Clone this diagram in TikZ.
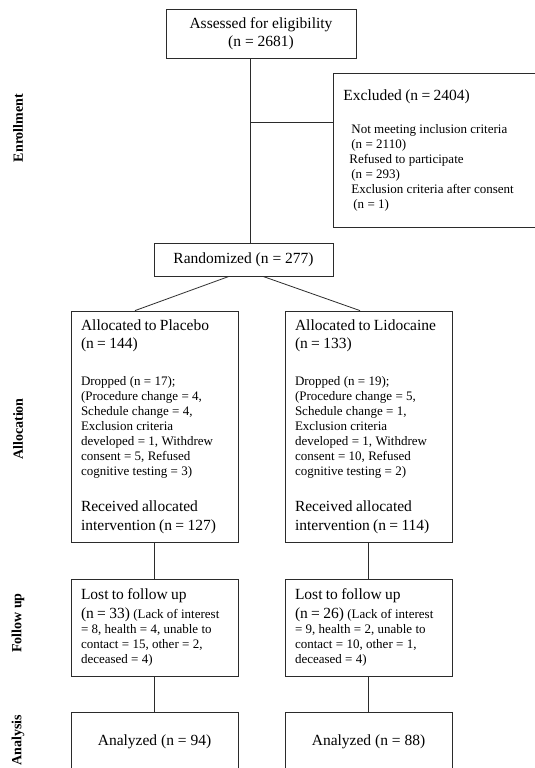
\documentclass[tikz,border=0pt]{standalone}
\usepackage{fontspec}
\setmainfont{Liberation Serif}
\usetikzlibrary{calc}
\definecolor{boxStroke}{HTML}{2B2B2B}
\newcommand{\hdfont}{\fontsize{15.5}{18.5}\selectfont}
\newcommand{\smfont}{\fontsize{13}{15}\selectfont}
\tikzset{
  base/.style={
    rectangle, draw=boxStroke, line width=0.8pt,
    inner xsep=10pt, inner ysep=3pt
  },
  centerbox/.style={base, align=center, font=\hdfont},
  armbox/.style={base, text width=147pt, minimum height=#1, align=left},
  armbox/.default=40pt,
  stage/.style={rotate=90, font=\fontsize{14}{16}\selectfont\bfseries},
  link/.style={draw=boxStroke, line width=0.8pt},
}
\begin{document}
\begin{tikzpicture}[x=1pt, y=-1pt]
    \useasboundingbox (0,0) rectangle (535,768);

    % enrollment
    \node[centerbox, minimum width=190pt, minimum height=49pt] (assess) at (261,33.5)
      {Assessed for eligibility\\(n = 2681)};
    \node[armbox=154pt, text width=190pt, anchor=north west] (excluded) at (333,73)
      {{\hdfont Excluded (n = 2404)\par}\vspace{18pt}
       {\smfont\hspace*{8pt}Not meeting inclusion criteria\\
        \hspace*{8pt}(n = 2110)\\
        \hspace*{6pt}Refused to participate\\
        \hspace*{8pt}(n = 293)\\
        \hspace*{8pt}Exclusion criteria after consent\\
        \hspace*{10pt}(n = 1)\par}};
    \node[centerbox, minimum width=179pt, minimum height=33pt] (random) at (243.5,259.5)
      {Randomized (n = 277)};

    % allocation
    \node[armbox=231pt] (placebo) at (154.5,426.5)
      {{\hdfont Allocated to Placebo\\(n = 144)\par}\vspace{22pt}
       {\smfont Dropped (n = 17);\\(Procedure change = 4,\\Schedule change = 4,\\
        Exclusion criteria\\developed = 1, Withdrew\\consent = 5, Refused\\
        cognitive testing = 3)\par}\vspace{17.5pt}
       {\hdfont Received allocated\\intervention (n = 127)\par}};
    \node[armbox=231pt] (lidocaine) at (368.5,426.5)
      {{\hdfont Allocated to Lidocaine\\(n = 133)\par}\vspace{22pt}
       {\smfont Dropped (n = 19);\\(Procedure change = 5,\\Schedule change = 1,\\
        Exclusion criteria\\developed = 1, Withdrew\\consent = 10, Refused\\
        cognitive testing = 2)\par}\vspace{17.5pt}
       {\hdfont Received allocated\\intervention (n = 114)\par}};

    % follow up
    \node[armbox=97pt] (lostP) at (154.5,627.5)
      {{\hdfont Lost to follow up\par (n = 33) {\smfont(Lack of interest}\par}
       {\smfont = 8, health = 4, unable to\\contact = 15, other = 2,\\deceased = 4)\par}};
    \node[armbox=97pt] (lostL) at (368.5,627.5)
      {{\hdfont Lost to follow up\par (n = 26) {\smfont(Lack of interest}\par}
       {\smfont = 9, health = 2, unable to\\contact = 10, other = 1,\\deceased = 4)\par}};

    % analysis
    \node[centerbox, minimum width=167pt, minimum height=60pt] (analyzedP) at (154.5,742)
      {Analyzed (n = 94)};
    \node[centerbox, minimum width=167pt, minimum height=60pt] (analyzedL) at (368.5,742)
      {Analyzed (n = 88)};

    % stage labels
    \node[stage] (enroll) at (18,128) {Enrollment};
    \node[stage] (alloc) at (18,429) {Allocation};
    \node[stage] (follow) at (18,623) {Follow up};
    \node[stage] (analysis) at (18,740) {Analysis};

    % connectors
    \coordinate (split) at (250,122);
    \draw[link] (assess.south -| split) -- (random.north -| split);
    \draw[link] (split) -- (split -| excluded.west);
    \draw[link] ($(random.south)+(-14.5,0)$) -- ($(placebo.north)+(-19.5,0)$);
    \draw[link] ($(random.south)+(19.5,0)$) -- ($(lidocaine.north)+(-8.5,0)$);
    \draw[link] (placebo) -- (lostP);
    \draw[link] (lidocaine) -- (lostL);
    \draw[link] (lostP) -- (analyzedP);
    \draw[link] (lostL) -- (analyzedL);
  \end{tikzpicture}
\end{document}
